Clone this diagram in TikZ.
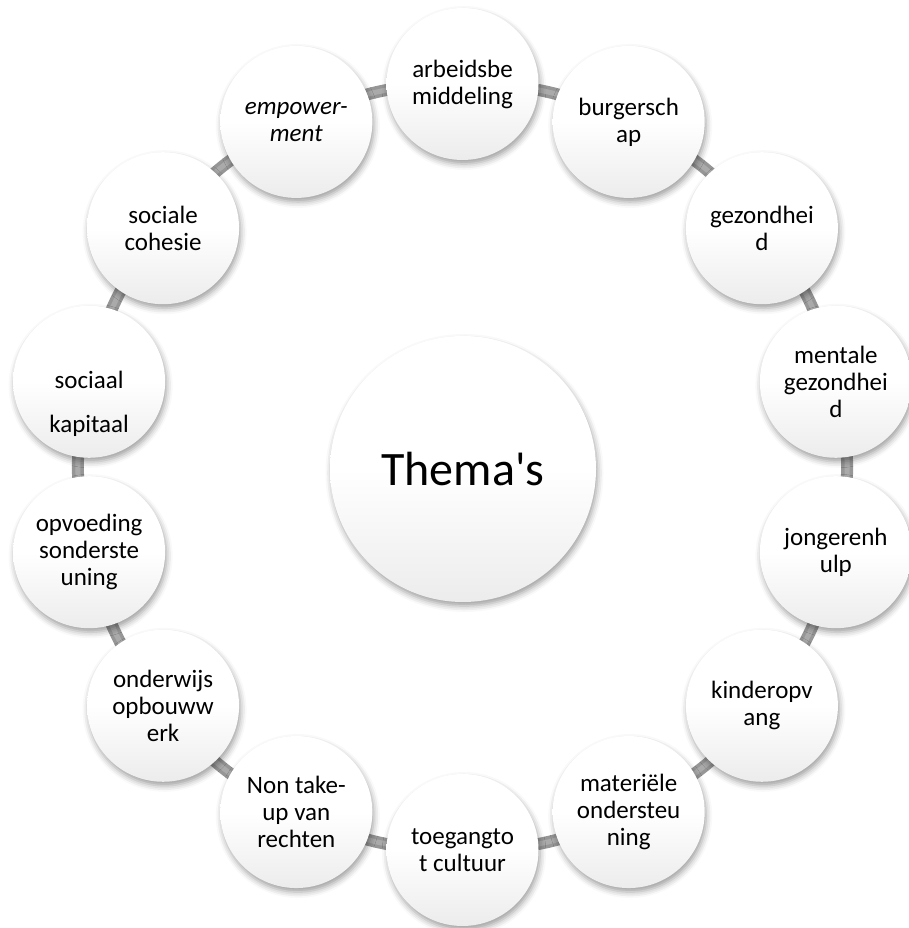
\documentclass[tikz,border=0pt]{standalone}
\usepackage{fontspec}
\setmainfont{Carlito}
\usepackage{tikz}
\usetikzlibrary{calc, shadows.blur}
\definecolor{ringgray}{RGB}{150, 150, 150}
\definecolor{ringlight}{RGB}{170, 170, 170}
\definecolor{ballshade}{RGB}{236, 236, 236}

\begin{document}
\begin{tikzpicture}[
    x=1pt, y=1pt,
    theme/.style={circle, inner sep=0pt, minimum size=152pt, top color=white, bottom color=ballshade, middle color=white, blur shadow={shadow xshift=1.5pt, shadow yshift=-4pt, shadow blur radius=6pt, shadow opacity=38}, font=\fontsize{25}{27}\selectfont, align=center},
    hub/.style={theme, minimum size=266pt, font=\fontsize{48}{58}\selectfont},
    band/.style={line width=12pt, ringgray},
    bandcore/.style={line width=5pt, ringlight}
]
    \useasboundingbox (0,0) rectangle (908,928);
    \coordinate (ring) at (462.5,461);

    % Ring links (drawn first, under the circles)
    \coordinate (p0) at ($(ring)+(90:383)$);
    \coordinate (p1) at ($(ring)+(64.286:383)$);
    \coordinate (p2) at ($(ring)+(38.571:383)$);
    \coordinate (p3) at ($(ring)+(12.857:383)$);
    \coordinate (p4) at ($(ring)+(-12.857:383)$);
    \coordinate (p5) at ($(ring)+(-38.571:383)$);
    \coordinate (p6) at ($(ring)+(-64.286:383)$);
    \coordinate (p7) at ($(ring)+(-90:383)$);
    \coordinate (p8) at ($(ring)+(-115.714:383)$);
    \coordinate (p9) at ($(ring)+(-141.429:383)$);
    \coordinate (p10) at ($(ring)+(-167.143:383)$);
    \coordinate (p11) at ($(ring)+(167.143:383)$);
    \coordinate (p12) at ($(ring)+(141.429:383)$);
    \coordinate (p13) at ($(ring)+(115.714:383)$);
    \foreach \s in {band, bandcore}
        \draw[\s] (p0) to[bend left=13] (p1) to[bend left=13] (p2) to[bend left=13] (p3)
            to[bend left=13] (p4) to[bend left=13] (p5) to[bend left=13] (p6) to[bend left=13] (p7)
            to[bend left=13] (p8) to[bend left=13] (p9) to[bend left=13] (p10) to[bend left=13] (p11)
            to[bend left=13] (p12) to[bend left=13] (p13) to[bend left=13] (p0);

    % Centre
    \node[hub] (thema) at (463,459) {Thema\textquotesingle s};

    % Outer ring, clockwise from the top
    \node[theme] (arbeid) at (p0) {arbeidsbe\\middeling};
    \node[theme] (burger) at (p1) {burgersch\\ap};
    \node[theme] (gezond) at (p2) {gezondhei\\d};
    \node[theme] (mentaal) at (p3) {mentale\\gezondhei\\d};
    \node[theme] (jongeren) at (p4) {jongerenh\\ulp};
    \node[theme] (kinder) at (p5) {kinderopv\\ang};
    \node[theme] (materieel) at (p6) {materiële\\ondersteu\\ning};
    \node[theme] (cultuur) at (p7) {toegangto\\t cultuur};
    \node[theme] (rechten) at (p8) {Non take-\\up van\\rechten};
    \node[theme] (onderwijs) at (p9) {onderwijs\\opbouww\\erk};
    \node[theme] (opvoeding) at (p10) {opvoeding\\sonderste\\uning};
    \node[theme] (kapitaal) at (p11) {\rule{0pt}{62pt}sociaal\\[17pt]kapitaal};
    \node[theme] (cohesie) at (p12) {sociale\\cohesie};
    \node[theme] (empower) at (p13) {\textit{empower-}\\\textit{ment}};
\end{tikzpicture}
\end{document}
